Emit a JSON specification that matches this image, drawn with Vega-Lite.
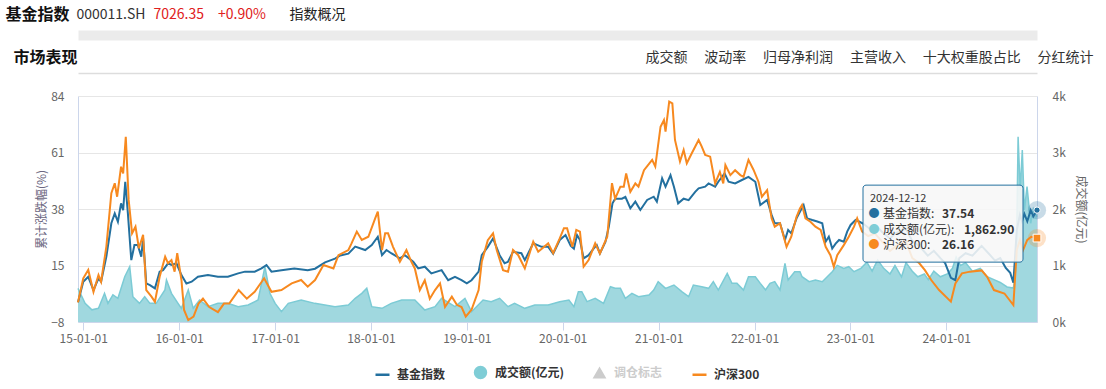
{
"$schema": "https://vega.github.io/schema/vega-lite/v6.json",
"width": 959, "height": 226,
"autosize": {"type": "none"},
"padding": {"left": 78, "top": 96, "right": 69, "bottom": 67},
"background": "white",
"config": {"font": "Noto Sans CJK SC", "view": {"stroke": null}},
"datasets": {
"fund": [
{"date":"2014-12-12","v":0},{"date":"2015-01-01","v":8.4},{"date":"2015-01-20","v":10.4},{"date":"2015-02-09","v":5.0},{"date":"2015-02-28","v":9.8},{"date":"2015-03-10","v":8.4},{"date":"2015-03-30","v":18.6},{"date":"2015-04-18","v":32.2},{"date":"2015-05-01","v":36.2},{"date":"2015-05-13","v":32.8},{"date":"2015-05-25","v":40.3},{"date":"2015-06-02","v":37.5},{"date":"2015-06-10","v":49.1},{"date":"2015-06-20","v":36.2},{"date":"2015-07-03","v":17.2},{"date":"2015-07-15","v":23.3},{"date":"2015-07-28","v":23.3},{"date":"2015-08-10","v":18.6},{"date":"2015-08-17","v":26.1},{"date":"2015-08-29","v":7.7},{"date":"2015-09-12","v":7.0},{"date":"2015-10-01","v":5.7},{"date":"2015-10-19","v":12.5},{"date":"2015-11-01","v":13.1},{"date":"2015-11-20","v":15.9},{"date":"2015-12-03","v":15.2},{"date":"2015-12-22","v":15.9},{"date":"2016-01-10","v":11.1},{"date":"2016-01-29","v":7.7},{"date":"2016-02-18","v":8.4},{"date":"2016-03-13","v":10.4},{"date":"2016-04-20","v":11.1},{"date":"2016-05-28","v":10.4},{"date":"2016-07-05","v":10.4},{"date":"2016-08-13","v":11.8},{"date":"2016-09-08","v":12.5},{"date":"2016-10-15","v":12.5},{"date":"2016-11-10","v":13.8},{"date":"2016-11-29","v":15.2},{"date":"2016-12-18","v":12.5},{"date":"2017-01-25","v":13.1},{"date":"2017-03-15","v":13.8},{"date":"2017-05-05","v":13.1},{"date":"2017-06-02","v":13.7},{"date":"2017-07-10","v":16.3},{"date":"2017-08-17","v":17.8},{"date":"2017-09-06","v":19.1},{"date":"2017-10-07","v":19.8},{"date":"2017-11-02","v":22.7},{"date":"2017-12-10","v":21.3},{"date":"2018-01-04","v":23.3},{"date":"2018-01-27","v":26.7},{"date":"2018-02-12","v":19.2},{"date":"2018-03-01","v":21.3},{"date":"2018-03-19","v":20.0},{"date":"2018-04-21","v":17.9},{"date":"2018-05-10","v":19.2},{"date":"2018-06-11","v":16.5},{"date":"2018-06-30","v":13.8},{"date":"2018-07-25","v":14.5},{"date":"2018-08-19","v":11.8},{"date":"2018-09-27","v":13.1},{"date":"2018-10-22","v":9.0},{"date":"2018-11-17","v":10.4},{"date":"2018-12-12","v":9.0},{"date":"2019-01-01","v":7.7},{"date":"2019-01-19","v":9.0},{"date":"2019-02-15","v":12.5},{"date":"2019-02-27","v":19.2},{"date":"2019-03-22","v":22.6},{"date":"2019-04-11","v":26.0},{"date":"2019-05-06","v":19.2},{"date":"2019-05-25","v":15.9},{"date":"2019-06-07","v":16.5},{"date":"2019-06-26","v":20.6},{"date":"2019-07-28","v":20.0},{"date":"2019-08-10","v":17.2},{"date":"2019-09-11","v":24.0},{"date":"2019-10-13","v":22.6},{"date":"2019-11-07","v":22.6},{"date":"2019-11-26","v":19.8},{"date":"2019-12-21","v":25.4},{"date":"2020-01-12","v":27.4},{"date":"2020-02-01","v":23.0},{"date":"2020-02-13","v":21.9},{"date":"2020-02-25","v":27.4},{"date":"2020-03-07","v":25.4},{"date":"2020-03-21","v":17.9},{"date":"2020-04-09","v":19.2},{"date":"2020-04-28","v":21.9},{"date":"2020-05-10","v":23.3},{"date":"2020-05-22","v":19.9},{"date":"2020-06-12","v":24.6},{"date":"2020-06-25","v":30.8},{"date":"2020-07-09","v":40.3},{"date":"2020-07-19","v":42.2},{"date":"2020-08-14","v":42.2},{"date":"2020-08-27","v":42.9},{"date":"2020-09-15","v":38.3},{"date":"2020-10-04","v":41.0},{"date":"2020-10-23","v":37.6},{"date":"2020-11-18","v":41.7},{"date":"2020-12-13","v":43.0},{"date":"2020-12-25","v":41.0},{"date":"2021-01-14","v":50.5},{"date":"2021-01-27","v":47.1},{"date":"2021-02-15","v":51.8},{"date":"2021-02-28","v":47.1},{"date":"2021-03-16","v":40.3},{"date":"2021-04-06","v":42.2},{"date":"2021-04-25","v":41.6},{"date":"2021-05-20","v":45.0},{"date":"2021-06-02","v":46.4},{"date":"2021-06-27","v":47.1},{"date":"2021-07-10","v":48.4},{"date":"2021-08-04","v":47.1},{"date":"2021-08-16","v":49.1},{"date":"2021-09-09","v":52.5},{"date":"2021-09-24","v":49.1},{"date":"2021-10-19","v":48.4},{"date":"2021-11-14","v":49.8},{"date":"2021-12-09","v":51.1},{"date":"2022-01-04","v":49.1},{"date":"2022-01-23","v":39.6},{"date":"2022-02-18","v":41.7},{"date":"2022-03-07","v":35.6},{"date":"2022-03-19","v":32.2},{"date":"2022-04-08","v":32.2},{"date":"2022-04-27","v":25.4},{"date":"2022-05-09","v":29.5},{"date":"2022-05-21","v":28.1},{"date":"2022-06-10","v":34.2},{"date":"2022-06-23","v":36.9},{"date":"2022-07-07","v":39.6},{"date":"2022-07-20","v":34.2},{"date":"2022-08-09","v":33.5},{"date":"2022-08-28","v":32.9},{"date":"2022-09-16","v":32.2},{"date":"2022-09-29","v":24.7},{"date":"2022-10-11","v":26.7},{"date":"2022-10-24","v":21.9},{"date":"2022-11-06","v":23.9},{"date":"2022-11-19","v":25.4},{"date":"2022-12-07","v":24.7},{"date":"2022-12-20","v":28.8},{"date":"2023-01-02","v":31.5},{"date":"2023-01-21","v":33.5},{"date":"2023-02-03","v":32.9},{"date":"2023-02-20","v":32},{"date":"2023-03-15","v":30},{"date":"2023-04-10","v":31},{"date":"2023-05-08","v":28},{"date":"2023-06-01","v":26},{"date":"2023-06-20","v":28},{"date":"2023-07-31","v":30},{"date":"2023-08-25","v":25},{"date":"2023-09-20","v":23},{"date":"2023-10-23","v":19},{"date":"2023-11-15","v":21},{"date":"2023-12-10","v":18},{"date":"2023-12-28","v":16},{"date":"2024-01-19","v":10},{"date":"2024-02-05","v":9},{"date":"2024-02-20","v":18},{"date":"2024-03-15","v":20},{"date":"2024-04-10","v":19},{"date":"2024-05-15","v":23},{"date":"2024-06-10","v":20},{"date":"2024-07-05","v":17},{"date":"2024-07-25","v":18},{"date":"2024-08-15","v":14},{"date":"2024-09-01","v":12},{"date":"2024-09-13","v":8},{"date":"2024-09-26","v":29.5},{"date":"2024-10-08","v":35.6},{"date":"2024-10-16","v":33},{"date":"2024-10-25","v":36},{"date":"2024-11-05","v":33},{"date":"2024-11-18","v":37.5},{"date":"2024-11-28","v":35},{"date":"2024-12-12","v":37.54}
],
"hs": [
{"date":"2014-12-12","v":0},{"date":"2015-01-01","v":9.8},{"date":"2015-01-20","v":13.2},{"date":"2015-02-09","v":4.3},{"date":"2015-02-28","v":11.1},{"date":"2015-03-10","v":8.4},{"date":"2015-03-30","v":22.7},{"date":"2015-04-18","v":44.4},{"date":"2015-05-01","v":48.5},{"date":"2015-05-10","v":43.0},{"date":"2015-05-25","v":55.2},{"date":"2015-06-02","v":52.5},{"date":"2015-06-12","v":67.4},{"date":"2015-06-23","v":41.7},{"date":"2015-07-06","v":28.1},{"date":"2015-07-19","v":30.8},{"date":"2015-08-01","v":22.0},{"date":"2015-08-17","v":27.5},{"date":"2015-08-29","v":5.0},{"date":"2015-09-18","v":2.3},{"date":"2015-10-01","v":0.2},{"date":"2015-10-19","v":10.4},{"date":"2015-11-09","v":18.6},{"date":"2015-11-20","v":15.9},{"date":"2015-12-03","v":17.2},{"date":"2015-12-15","v":12.5},{"date":"2015-12-25","v":20.0},{"date":"2016-01-10","v":9.1},{"date":"2016-01-20","v":-3.1},{"date":"2016-02-05","v":-7.2},{"date":"2016-02-25","v":-5.8},{"date":"2016-03-15","v":-0.5},{"date":"2016-04-01","v":1.5},{"date":"2016-04-25","v":-1.9},{"date":"2016-05-28","v":-4.0},{"date":"2016-06-20","v":-0.5},{"date":"2016-07-10","v":-0.5},{"date":"2016-08-15","v":5.0},{"date":"2016-09-15","v":1.5},{"date":"2016-10-15","v":4.3},{"date":"2016-11-20","v":9.8},{"date":"2016-12-18","v":4.3},{"date":"2017-01-25","v":5.0},{"date":"2017-03-05","v":7.7},{"date":"2017-04-10","v":9.1},{"date":"2017-05-05","v":6.4},{"date":"2017-06-02","v":9.1},{"date":"2017-07-04","v":15.2},{"date":"2017-08-11","v":13.8},{"date":"2017-08-30","v":19.2},{"date":"2017-10-07","v":21.3},{"date":"2017-10-19","v":24.0},{"date":"2017-11-08","v":28.8},{"date":"2017-11-27","v":25.4},{"date":"2017-12-22","v":26.7},{"date":"2018-01-17","v":34.2},{"date":"2018-01-27","v":36.9},{"date":"2018-02-12","v":21.3},{"date":"2018-02-24","v":28.1},{"date":"2018-03-07","v":28.1},{"date":"2018-03-26","v":22.6},{"date":"2018-04-21","v":16.5},{"date":"2018-05-16","v":21.3},{"date":"2018-06-04","v":16.5},{"date":"2018-06-17","v":13.8},{"date":"2018-07-06","v":5.0},{"date":"2018-07-25","v":9.0},{"date":"2018-08-13","v":1.5},{"date":"2018-09-02","v":5.0},{"date":"2018-09-21","v":7.7},{"date":"2018-10-10","v":-1.9},{"date":"2018-11-05","v":2.3},{"date":"2018-11-24","v":-1.0},{"date":"2018-12-12","v":-1.9},{"date":"2018-12-28","v":-5.8},{"date":"2019-01-19","v":-3.0},{"date":"2019-02-15","v":5.0},{"date":"2019-02-27","v":16.5},{"date":"2019-03-22","v":25.3},{"date":"2019-04-11","v":28.1},{"date":"2019-04-25","v":21.3},{"date":"2019-05-19","v":13.1},{"date":"2019-06-07","v":12.5},{"date":"2019-06-26","v":21.3},{"date":"2019-07-16","v":19.2},{"date":"2019-08-10","v":13.8},{"date":"2019-09-11","v":24.7},{"date":"2019-09-30","v":20.6},{"date":"2019-11-07","v":24.0},{"date":"2019-11-26","v":20.0},{"date":"2019-12-21","v":26.0},{"date":"2020-01-06","v":30.2},{"date":"2020-01-18","v":30.2},{"date":"2020-02-07","v":22.6},{"date":"2020-02-22","v":29.5},{"date":"2020-03-07","v":28.8},{"date":"2020-03-21","v":14.5},{"date":"2020-04-09","v":17.2},{"date":"2020-05-04","v":24.0},{"date":"2020-05-22","v":19.9},{"date":"2020-06-19","v":26.7},{"date":"2020-07-07","v":48.5},{"date":"2020-07-19","v":42.2},{"date":"2020-08-08","v":47.1},{"date":"2020-08-21","v":47.1},{"date":"2020-08-30","v":52.5},{"date":"2020-09-15","v":45.0},{"date":"2020-10-04","v":48.4},{"date":"2020-10-16","v":47.1},{"date":"2020-11-06","v":53.8},{"date":"2020-12-07","v":58.0},{"date":"2020-12-19","v":55.3},{"date":"2021-01-08","v":71.5},{"date":"2021-01-21","v":74.2},{"date":"2021-01-27","v":69.5},{"date":"2021-02-10","v":81.7},{"date":"2021-02-22","v":81.0},{"date":"2021-03-04","v":66.1},{"date":"2021-03-23","v":57.3},{"date":"2021-04-06","v":62.0},{"date":"2021-04-18","v":56.6},{"date":"2021-05-07","v":60.7},{"date":"2021-06-02","v":66.1},{"date":"2021-06-14","v":63.4},{"date":"2021-06-27","v":60.0},{"date":"2021-07-16","v":59.3},{"date":"2021-08-04","v":48.4},{"date":"2021-08-22","v":53.1},{"date":"2021-09-04","v":48.4},{"date":"2021-09-12","v":55.9},{"date":"2021-10-01","v":51.8},{"date":"2021-10-19","v":53.8},{"date":"2021-11-08","v":51.8},{"date":"2021-11-20","v":51.1},{"date":"2021-12-09","v":58.0},{"date":"2021-12-28","v":54.0},{"date":"2022-01-16","v":49.1},{"date":"2022-01-29","v":43.0},{"date":"2022-02-18","v":45.7},{"date":"2022-03-07","v":34.2},{"date":"2022-03-19","v":30.8},{"date":"2022-04-08","v":32.2},{"date":"2022-05-03","v":22.6},{"date":"2022-05-21","v":26.7},{"date":"2022-06-10","v":34.8},{"date":"2022-06-23","v":38.2},{"date":"2022-07-01","v":39.6},{"date":"2022-07-14","v":34.2},{"date":"2022-08-02","v":32.8},{"date":"2022-08-21","v":30.8},{"date":"2022-09-10","v":29.5},{"date":"2022-09-29","v":22.6},{"date":"2022-10-17","v":19.2},{"date":"2022-10-30","v":14.5},{"date":"2022-11-12","v":19.2},{"date":"2022-12-07","v":23.3},{"date":"2022-12-26","v":26.7},{"date":"2023-01-15","v":30.8},{"date":"2023-01-27","v":34.2},{"date":"2023-02-15","v":28.8},{"date":"2023-03-10","v":27},{"date":"2023-04-05","v":28},{"date":"2023-05-08","v":24},{"date":"2023-06-01","v":21},{"date":"2023-06-25","v":23},{"date":"2023-07-31","v":25},{"date":"2023-08-25","v":18},{"date":"2023-09-20","v":16},{"date":"2023-10-12","v":13.1},{"date":"2023-11-05","v":9.1},{"date":"2023-12-05","v":5.0},{"date":"2024-01-19","v":0.3},{"date":"2024-02-05","v":7.7},{"date":"2024-03-01","v":11.8},{"date":"2024-04-01","v":12.5},{"date":"2024-05-15","v":13},{"date":"2024-06-05","v":10.4},{"date":"2024-07-01","v":5.0},{"date":"2024-08-10","v":3.6},{"date":"2024-09-13","v":-1.1},{"date":"2024-09-26","v":21.3},{"date":"2024-10-08","v":25.4},{"date":"2024-10-20","v":21.3},{"date":"2024-11-05","v":25.4},{"date":"2024-11-20","v":26.7},{"date":"2024-12-12","v":26.16}
],
"vol": [
{"date":"2014-12-12","v":596},{"date":"2015-01-08","v":330},{"date":"2015-02-03","v":215},{"date":"2015-02-28","v":242},{"date":"2015-03-23","v":508},{"date":"2015-04-05","v":330},{"date":"2015-04-24","v":480},{"date":"2015-05-13","v":419},{"date":"2015-06-08","v":802},{"date":"2015-06-27","v":979},{"date":"2015-07-09","v":448},{"date":"2015-08-03","v":330},{"date":"2015-08-23","v":448},{"date":"2015-09-12","v":330},{"date":"2015-10-06","v":330},{"date":"2015-11-08","v":566},{"date":"2015-11-14","v":743},{"date":"2015-12-03","v":507},{"date":"2015-12-28","v":330},{"date":"2016-01-10","v":242},{"date":"2016-02-05","v":566},{"date":"2016-02-24","v":242},{"date":"2016-03-19","v":389},{"date":"2016-04-20","v":271},{"date":"2016-05-28","v":330},{"date":"2016-07-05","v":330},{"date":"2016-08-13","v":271},{"date":"2016-09-20","v":301},{"date":"2016-10-28","v":389},{"date":"2016-11-23","v":979},{"date":"2016-12-12","v":507},{"date":"2017-01-01","v":330},{"date":"2017-01-25","v":183},{"date":"2017-02-20","v":330},{"date":"2017-04-10","v":389},{"date":"2017-06-01","v":330},{"date":"2017-08-17","v":271},{"date":"2017-10-07","v":301},{"date":"2017-11-02","v":419},{"date":"2017-11-27","v":507},{"date":"2017-12-16","v":596},{"date":"2018-01-04","v":271},{"date":"2018-02-12","v":242},{"date":"2018-03-19","v":330},{"date":"2018-04-28","v":389},{"date":"2018-06-17","v":389},{"date":"2018-07-25","v":212},{"date":"2018-09-02","v":271},{"date":"2018-09-27","v":419},{"date":"2018-11-17","v":271},{"date":"2018-12-25","v":419},{"date":"2019-01-19","v":183},{"date":"2019-03-04","v":389},{"date":"2019-04-04","v":360},{"date":"2019-05-06","v":419},{"date":"2019-06-07","v":271},{"date":"2019-07-02","v":330},{"date":"2019-08-10","v":242},{"date":"2019-09-17","v":301},{"date":"2019-11-07","v":301},{"date":"2019-12-21","v":360},{"date":"2020-01-25","v":389},{"date":"2020-02-13","v":271},{"date":"2020-03-01","v":537},{"date":"2020-03-14","v":537},{"date":"2020-04-03","v":360},{"date":"2020-05-04","v":419},{"date":"2020-06-05","v":330},{"date":"2020-07-01","v":625},{"date":"2020-07-19","v":596},{"date":"2020-08-08","v":596},{"date":"2020-08-27","v":419},{"date":"2020-09-21","v":507},{"date":"2020-10-16","v":448},{"date":"2020-11-25","v":478},{"date":"2020-12-13","v":566},{"date":"2020-12-30","v":714},{"date":"2021-01-27","v":596},{"date":"2021-02-28","v":655},{"date":"2021-03-30","v":537},{"date":"2021-04-25","v":448},{"date":"2021-05-13","v":655},{"date":"2021-06-14","v":625},{"date":"2021-07-10","v":596},{"date":"2021-07-28","v":714},{"date":"2021-08-16","v":566},{"date":"2021-09-19","v":861},{"date":"2021-10-07","v":684},{"date":"2021-10-26","v":684},{"date":"2021-11-20","v":566},{"date":"2021-12-09","v":802},{"date":"2022-01-04","v":802},{"date":"2022-01-23","v":684},{"date":"2022-02-12","v":566},{"date":"2022-03-01","v":684},{"date":"2022-03-19","v":714},{"date":"2022-04-08","v":566},{"date":"2022-04-27","v":1038},{"date":"2022-05-09","v":743},{"date":"2022-06-03","v":890},{"date":"2022-06-23","v":890},{"date":"2022-07-01","v":802},{"date":"2022-07-28","v":714},{"date":"2022-08-21","v":743},{"date":"2022-09-16","v":714},{"date":"2022-10-05","v":802},{"date":"2022-10-24","v":890},{"date":"2022-11-12","v":1003},{"date":"2022-12-07","v":949},{"date":"2022-12-26","v":979},{"date":"2023-01-15","v":890},{"date":"2023-02-10","v":950},{"date":"2023-03-05","v":1060},{"date":"2023-03-25","v":900},{"date":"2023-04-15","v":1100},{"date":"2023-05-08","v":950},{"date":"2023-06-01","v":850},{"date":"2023-06-20","v":1000},{"date":"2023-07-15","v":800},{"date":"2023-08-01","v":1050},{"date":"2023-08-25","v":900},{"date":"2023-09-15","v":800},{"date":"2023-10-10","v":850},{"date":"2023-10-25","v":750},{"date":"2023-11-15","v":900},{"date":"2023-12-10","v":800},{"date":"2024-01-05","v":850},{"date":"2024-01-25","v":950},{"date":"2024-02-08","v":1150},{"date":"2024-02-25","v":1000},{"date":"2024-03-15","v":1050},{"date":"2024-04-10","v":900},{"date":"2024-05-10","v":950},{"date":"2024-06-05","v":800},{"date":"2024-07-01","v":750},{"date":"2024-07-25","v":700},{"date":"2024-08-20","v":620},{"date":"2024-09-13","v":600},{"date":"2024-09-24","v":1000},{"date":"2024-10-01","v":3280},{"date":"2024-10-09","v":2336},{"date":"2024-10-17","v":3044},{"date":"2024-10-25","v":1982},{"date":"2024-11-04","v":2395},{"date":"2024-11-18","v":1747},{"date":"2024-11-28","v":2000},{"date":"2024-12-12","v":1862.9}
],
"tip": [{"date":"2024-12-12","day":"2024-12-12","fund":37.54,"vol":1862.90,"hs":26.16}]
},
"layer": [
{
"data": {"name": "vol"},
"mark": {"type": "area", "color": "#a0d8df", "opacity": 1, "line": {"color": "#7ccbd5", "strokeWidth": 1.5}},
"encoding": {
"x": {"field": "date", "type": "temporal", "scale": {"type": "utc", "nice": false},
"axis": {"orient": "bottom", "labelExpr": "utcFormat(datum.value, '%y-%m-%d')", "labelFlush": false,
"values": [{"year":2015,"month":1,"date":1,"utc":true},{"year":2016,"month":1,"date":1,"utc":true},{"year":2017,"month":1,"date":1,"utc":true},{"year":2018,"month":1,"date":1,"utc":true},{"year":2019,"month":1,"date":1,"utc":true},{"year":2020,"month":1,"date":1,"utc":true},{"year":2021,"month":1,"date":1,"utc":true},{"year":2022,"month":1,"date":1,"utc":true},{"year":2023,"month":1,"date":1,"utc":true},{"year":2024,"month":1,"date":1,"utc":true}],
"labelFontSize": 12, "labelColor": "#666666", "tickColor": "#ccd6eb", "tickSize": 8, "domainColor": "#ccd6eb", "grid": false, "labelPadding": 3,
"title": "000011.SH", "titleX": -2, "titleY": -308, "titleAlign": "left", "titleAnchor": "start", "titleBaseline": "middle", "titleAngle": 0, "titleFontSize": 14, "titleFontWeight": "normal", "titleColor": "#333333"}},
"y": {"field": "v", "type": "quantitative", "scale": {"domain": [0, 4000], "nice": false, "zero": true},
"axis": {"orient": "right", "values": [0, 1000, 2000, 3000, 4000], "format": "~s", "grid": false, "ticks": false, "domainColor": "#ccd6eb", "labelPadding": 15, "labelFontSize": 12, "labelColor": "#666666",
"title": "成交额(亿元)", "titleFontSize": 12, "titleColor": "#666666", "titleFontWeight": "normal", "titlePadding": 8}}
}
},
{
"data": {"name": "fund"},
"mark": {"type": "line", "strokeWidth": 2},
"encoding": {
"x": {"field": "date", "type": "temporal", "scale": {"type": "utc", "nice": false},
"axis": {"orient": "top", "labels": false, "ticks": false, "domain": false, "grid": false,
"title": "基金指数", "titleX": -73, "titleY": -82, "titleAlign": "left", "titleAnchor": "start", "titleBaseline": "middle", "titleAngle": 0, "titleFontSize": 16, "titleFontWeight": "bold", "titleColor": "#111111"}},
"y": {"field": "v", "type": "quantitative", "scale": {"domain": [-8, 84], "nice": false, "zero": false},
"axis": {"orient": "left", "values": [-8, 15, 38, 61, 84], "grid": true, "gridColor": "#e6e6e6", "ticks": false, "domainColor": "#ccd6eb", "labelPadding": 14, "labelFontSize": 12, "labelColor": "#666666",
"title": "累计涨跌幅(%)", "titleFontSize": 12, "titleColor": "#6b6680", "titleFontWeight": "normal", "titlePadding": 2}},
"color": {"datum": "基金指数", "type": "nominal",
"scale": {"domain": ["基金指数", "成交额(亿元)", "调仓标志", "沪深300"], "range": ["#23709f", "#7fcdd6", "#cccccc", "#f7891f"]},
"legend": {"orient": "none", "legendX": 296, "legendY": 268, "direction": "horizontal", "title": null, "padding": 0,
"labelFontSize": 12, "labelFontWeight": "bold", "labelColor": "#333333", "columnPadding": 24, "symbolSize": 196, "labelOffset": 6, "symbolStrokeWidth": 2.5,
"encode": {
"symbols": {"update": {
"shape": {"signal": "datum.value == '成交额(亿元)' ? 'circle' : (datum.value == '调仓标志' ? 'triangle-up' : 'stroke')"},
"size": {"signal": "datum.value == '成交额(亿元)' ? 120 : (datum.value == '调仓标志' ? 90 : 196)"},
"fill": {"signal": "datum.value == '成交额(亿元)' ? '#7fcdd6' : (datum.value == '调仓标志' ? '#cccccc' : 'transparent')"},
"stroke": {"signal": "datum.value == '基金指数' ? '#23709f' : (datum.value == '沪深300' ? '#f7891f' : 'transparent')"},
"strokeWidth": {"value": 2.5},
"opacity": {"value": 1}}},
"labels": {"update": {"fill": {"signal": "datum.value == '调仓标志' ? '#cccccc' : '#333333'"}}}
}}}
}
},
{
"data": {"name": "hs"},
"mark": {"type": "line", "strokeWidth": 2, "color": "#f7891f"},
"encoding": {
"x": {"field": "date", "type": "temporal", "scale": {"type": "utc", "nice": false},
"axis": {"orient": "top", "labels": false, "ticks": false, "domain": false, "grid": false,
"title": "7026.35\u2002\u2002+0.90%", "titleX": 75, "titleY": -82, "titleAlign": "left", "titleAnchor": "start", "titleBaseline": "middle", "titleAngle": 0, "titleFontSize": 14, "titleFontWeight": "normal", "titleColor": "#e02020"}},
"y": {"field": "v", "type": "quantitative", "scale": {"domain": [-8, 84], "nice": false, "zero": false}, "axis": null}
}
},
{
"data": {"name": "tip"},
"layer": [
{"mark": {"type": "circle", "size": 330, "color": "#23709f", "opacity": 0.25},
 "encoding": {"y": {"field": "fund", "type": "quantitative", "scale": {"domain": [-8, 84], "nice": false, "zero": false}, "axis": null}}},
{"mark": {"type": "circle", "size": 330, "color": "#f7891f", "opacity": 0.25},
 "encoding": {"y": {"field": "hs", "type": "quantitative"}}}
],
"encoding": {
"x": {"field": "date", "type": "temporal", "scale": {"type": "utc", "nice": false},
"axis": {"orient": "top", "offset": 61, "labels": false, "ticks": false, "domain": true, "domainColor": "#ebebeb", "domainWidth": 10, "grid": false,
"title": "指数概况", "titleX": 211, "titleY": -21, "titleAlign": "left", "titleAnchor": "start", "titleBaseline": "middle", "titleAngle": 0, "titleFontSize": 14, "titleFontWeight": "normal", "titleColor": "#222222"}}
}
},
{
"data": {"name": "tip"},
"layer": [
{"mark": {"type": "point", "shape": "circle", "filled": true, "size": 40, "color": "#23709f", "stroke": "white", "strokeWidth": 1, "opacity": 1},
 "encoding": {"y": {"field": "fund", "type": "quantitative", "scale": {"domain": [-8, 84], "nice": false, "zero": false}, "axis": null}}},
{"mark": {"type": "point", "shape": "square", "filled": true, "size": 60, "color": "#f7891f", "stroke": "white", "strokeWidth": 1, "opacity": 1},
 "encoding": {"y": {"field": "hs", "type": "quantitative"}}}
],
"encoding": {
"x": {"field": "date", "type": "temporal", "scale": {"type": "utc", "nice": false},
"axis": {"orient": "top", "offset": 23, "labels": false, "ticks": false, "domain": true, "domainColor": "#dddddd", "domainWidth": 1.5, "grid": false,
"title": "市场表现", "titleX": -65, "titleY": -16, "titleAlign": "left", "titleAnchor": "start", "titleBaseline": "middle", "titleAngle": 0, "titleFontSize": 16, "titleFontWeight": "bold", "titleColor": "#111111"}}
}
},
{
"data": {"name": "tip"},
"layer": [
{"mark": {"type": "rect", "xOffset": -174, "x2Offset": -14, "yOffset": -25, "y2Offset": 52, "fill": "#f7f7f7", "fillOpacity": 0.88, "stroke": "#23709f", "strokeWidth": 1, "cornerRadius": 3},
 "encoding": {"x2": {"field": "date"}, "y2": {"field": "fund"}}},
{"mark": {"type": "text", "align": "left", "baseline": "middle", "dx": -167, "dy": -11, "fontSize": 11, "color": "#333333"},
 "encoding": {"text": {"field": "day", "type": "nominal"}}},
{"mark": {"type": "text", "text": "●", "align": "center", "baseline": "middle", "dx": -163, "dy": 4, "fontSize": 11, "color": "#23709f"}},
{"mark": {"type": "text", "text": "●", "align": "center", "baseline": "middle", "dx": -163, "dy": 19.5, "fontSize": 11, "color": "#7fcdd6"}},
{"mark": {"type": "text", "text": "●", "align": "center", "baseline": "middle", "dx": -163, "dy": 35, "fontSize": 11, "color": "#f7891f"}},
{"mark": {"type": "text", "text": "基金指数:", "align": "left", "baseline": "middle", "dx": -154, "dy": 4, "fontSize": 12, "color": "#333333"}},
{"mark": {"type": "text", "text": "成交额(亿元):", "align": "left", "baseline": "middle", "dx": -154, "dy": 19.5, "fontSize": 12, "color": "#333333"}},
{"mark": {"type": "text", "text": "沪深300:", "align": "left", "baseline": "middle", "dx": -154, "dy": 35, "fontSize": 12, "color": "#333333"}},
{"mark": {"type": "text", "align": "left", "baseline": "middle", "dx": -95, "dy": 4, "fontSize": 12, "fontWeight": "bold", "color": "#333333"},
 "encoding": {"text": {"field": "fund", "type": "quantitative", "format": ".2f"}}},
{"mark": {"type": "text", "align": "left", "baseline": "middle", "dx": -73, "dy": 19.5, "fontSize": 12, "fontWeight": "bold", "color": "#333333"},
 "encoding": {"text": {"field": "vol", "type": "quantitative", "format": ",.2f"}}},
{"mark": {"type": "text", "align": "left", "baseline": "middle", "dx": -95, "dy": 35, "fontSize": 12, "fontWeight": "bold", "color": "#333333"},
 "encoding": {"text": {"field": "hs", "type": "quantitative", "format": ".2f"}}}
],
"encoding": {
"x": {"field": "date", "type": "temporal", "scale": {"type": "utc", "nice": false},
"axis": {"orient": "top", "labels": false, "ticks": false, "domain": false, "grid": false,
"title": "成交额\u2003\u2009波动率\u2003\u2009归母净利润\u2003\u2009主营收入\u2003\u2009十大权重股占比\u2003\u2009分红统计", "titleX": 1015, "titleY": -39, "titleAlign": "right", "titleAnchor": "end", "titleBaseline": "middle", "titleAngle": 0, "titleFontSize": 14, "titleFontWeight": "normal", "titleColor": "#333333"}},
"y": {"field": "fund", "type": "quantitative", "scale": {"domain": [-8, 84], "nice": false, "zero": false}, "axis": null}
}
}
],
"resolve": {"scale": {"y": "independent"}, "axis": {"x": "independent"}}
}
